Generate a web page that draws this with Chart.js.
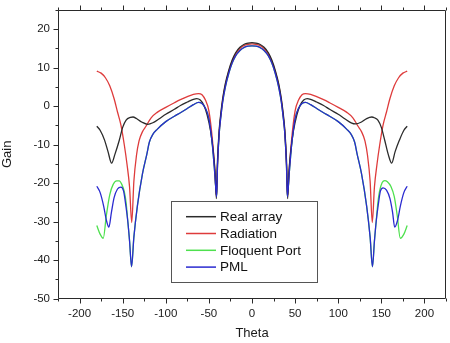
<!DOCTYPE html>
<html><head><meta charset="utf-8">
<script src="https://cdn.jsdelivr.net/npm/chart.js@4.4.1/dist/chart.umd.min.js"></script>
<style>html,body{margin:0;padding:0;background:#fff;}#wrap{width:450px;height:343px;position:relative;}</style>
</head><body><div id="wrap"><canvas id="c"></canvas></div>
<script>
// ---- tick values ----
const xTicks = [-200, -150, -100, -50, 0, 50, 100, 150, 200];
const xMinorTicks = [-225, -175, -125, -75, -25, 25, 75, 125, 175, 225];
const yTicks = [-50, -40, -30, -20, -10, 0, 10, 20];
const yMinorTicks = [-45, -35, -25, -15, -5, 5, 15, 25];
const seriesNames = ['Real array', 'Radiation', 'Floquent Port', 'PML'];

// ---- Real array ----
const realArrayTheta = [-180,-176,-171,-167,-162.8,-159,-154,-150,-146,-141,-138,-134,-128,-121,-115,-108,-100,-90,-83,-75,-68,-64,-60,-56,-52,-48,-45,-43,-41.3,-40,-38,-36,-34,-31,-27,-23,-19,-14,-9,-4.5,0,
  4.5,9,14,19,23,27,31,34,36,38,40,41.3,43,45,48,52,56,60,64,68,75,83,90,100,108,115,120,127,133,139,142,146,150,154,158,162,166,171,176,180];
const realArrayGain = [-5.2,-6.3,-8.8,-11.8,-14.8,-12.5,-8.9,-5.5,-3.6,-2.9,-2.8,-3.2,-4.1,-4.7,-4.3,-3.3,-2.1,-0.8,0.2,1.1,1.8,2.0,1.6,0.3,-2.3,-6.5,-11.5,-16.5,-24,-14,-6,-1.5,2,5.8,9.3,12,13.9,15.3,16.1,16.4,16.5,
  16.4,16.1,15.3,13.9,12,9.3,5.8,2,-1.5,-6,-14,-24,-16.5,-11.5,-6.5,-2.3,0.3,1.6,2.0,1.8,1.1,0.2,-0.8,-2.1,-3.3,-4.3,-4.6,-4.1,-3.2,-2.8,-3.0,-3.6,-5.5,-8.9,-12.5,-14.8,-11.8,-8.8,-6.3,-5.2];

// ---- Radiation ----
const radiationTheta = [-180,-175,-170,-165,-160,-156,-152,-148,-145,-142,-139.5,-137,-134,-131,-127,-123,-117,-110,-100,-90,-83,-75,-68,-62,-58,-54,-50,-46,-43,-41.2,-40,-38,-36,-34,-31,-27,-23,-19,-14,-9,-4.5,0,
  4.5,9,14,19,23,27,31,34,36,38,40,41.2,43,46,50,54,58,62,68,75,83,90,100,110,117,123,127,131,134,137,139.5,142,145,148,152,156,160,165,170,175,180];
const radiationGain = [9.1,8.6,7.4,5.3,2.0,-1.5,-4.9,-10.2,-15,-21,-30.2,-19.5,-12.8,-9,-6.6,-5.2,-3,-1.6,-0.3,0.9,1.7,2.5,3.1,3.3,3.0,1.6,-1.2,-8.5,-17,-23.5,-15,-6.5,-2,1.6,5.4,9,11.7,13.6,15,15.8,16.1,16.2,
  16.1,15.8,15,13.6,11.7,9,5.4,1.6,-2,-6.5,-15,-23.5,-17,-8.5,-1.2,1.6,3.0,3.3,3.1,2.5,1.7,0.9,-0.3,-1.6,-3,-5.2,-6.6,-9,-12.8,-19.5,-30.2,-21,-15,-10.2,-4.9,-1.5,2.0,5.3,7.4,8.6,9.1];

// ---- Floquent Port ----
const floquentTheta = [-180,-176,-172.5,-169,-165,-161,-157,-154,-151,-148,-146,-144,-142,-139.7,-137,-133,-127,-122,-119,-115,-110,-100,-90,-83,-75,-68,-62,-58,-54,-50,-46,-43,-41,-40,-38,-36,-34,-31,-27,-23,-19,-14,-9,-4.5,0,
  4.5,9,14,19,23,27,31,34,36,38,40,41,43,46,50,54,58,62,68,75,83,90,100,110,115,119,122,127,133,137,139.7,142,144,146,148,151,154,157,161,165,168.5,172,176,180];
const floquentGain = [-31,-33.3,-34.3,-28.5,-23,-20.3,-19.4,-19.4,-20.3,-22.3,-25,-30,-35,-41.7,-34,-26,-17.5,-12.5,-9.3,-7.3,-6,-4,-2.6,-1.7,-0.6,0.4,1.0,0.7,-0.5,-3.2,-10,-18,-23.5,-15.5,-7,-2.5,1.1,4.9,8.5,11.2,13.1,14.5,15.3,15.6,15.7,
  15.6,15.3,14.5,13.1,11.2,8.5,4.9,1.1,-2.5,-7,-15.5,-23.5,-18,-10,-3.2,-0.5,0.7,1.0,0.4,-0.6,-1.7,-2.6,-4,-6,-7.3,-9.3,-12.5,-17.5,-26,-34,-41.7,-35,-30,-25,-22,-19.8,-19.3,-19.6,-20.8,-23.5,-28.5,-34.3,-33.3,-31];

// ---- PML ----
const pmlTheta = [-180,-176,-172,-169,-166,-163,-160,-156,-152,-149,-146.5,-144,-142,-139.7,-137,-133,-127,-122,-119,-115,-110,-100,-90,-83,-75,-68,-62,-58,-54,-50,-46,-43,-41,-40,-38,-36,-34,-31,-27,-23,-19,-14,-9,-4.5,0,
  4.5,9,14,19,23,27,31,34,36,38,40,41,43,46,50,54,58,62,68,75,83,90,100,110,115,119,122,127,133,137,139.7,142,144,146.5,149,152,156,160,163,165.5,169,172,176,180];
const pmlGain = [-20.8,-22.5,-26,-29.5,-31.4,-27.5,-23.8,-21.5,-21,-22,-25.5,-30,-35,-41.7,-34,-26,-17.5,-12.5,-9.3,-7.3,-6,-4,-2.6,-1.7,-0.6,0.4,1.0,0.7,-0.5,-3.2,-10,-18,-23.5,-15.5,-7,-2.5,1.1,4.9,8.5,11.2,13.1,14.5,15.3,15.6,15.7,
  15.6,15.3,14.5,13.1,11.2,8.5,4.9,1.1,-2.5,-7,-15.5,-23.5,-18,-10,-3.2,-0.5,0.7,1.0,0.4,-0.6,-1.7,-2.6,-4,-6,-7.3,-9.3,-12.5,-17.5,-26,-34,-41.7,-35,-30,-25.5,-22,-21.2,-21.8,-24,-27.5,-31.4,-29.5,-26,-22.5,-20.8];

const FONT = '"Liberation Sans", Arial, sans-serif';
const pts = (t, g) => t.map((v, i) => ({x: v, y: g[i]}));

const frameTicks = {
  id: 'frameTicks',
  afterDraw(chart) {
    const {ctx, chartArea: a, scales: {x, y}} = chart;
    ctx.save();
    ctx.strokeStyle = '#2a2a2a';
    ctx.lineWidth = 1;
    const L = Math.round(a.left) + 0.5, R = Math.round(a.right) - 0.5;
    const T = Math.round(a.top) + 0.5, B = Math.round(a.bottom) - 0.5;
    ctx.beginPath();
    ctx.rect(L, T, R - L, B - T);
    const xt = (v, len) => {
      const p = Math.round(x.getPixelForValue(v)) + 0.5;
      ctx.moveTo(p, B); ctx.lineTo(p, B + len);
      ctx.moveTo(p, T); ctx.lineTo(p, T - len);
    };
    const yt = (v, len) => {
      const p = Math.round(y.getPixelForValue(v)) + 0.5;
      ctx.moveTo(L, p); ctx.lineTo(L - len, p);
    };
    xTicks.forEach(v => xt(v, 5));
    xMinorTicks.forEach(v => xt(v, 3));
    yTicks.forEach(v => yt(v, 5));
    yMinorTicks.forEach(v => yt(v, 3));
    ctx.stroke();
    ctx.restore();
  }
};

const legendBox = {
  id: 'legendBox',
  afterDatasetsDraw(chart) {
    const {ctx, chartArea: a} = chart;
    const x0 = Math.round(a.left) + 113, y0 = Math.round(a.top) + 191, w = 146, h = 81;
    ctx.save();
    ctx.fillStyle = '#fff';
    ctx.fillRect(x0, y0, w, h);
    ctx.strokeStyle = '#555';
    ctx.lineWidth = 1;
    ctx.strokeRect(x0 + 0.5, y0 + 0.5, w, h);
    ctx.font = '13.5px ' + FONT;
    ctx.textBaseline = 'middle';
    chart.data.datasets.forEach((ds, i) => {
      const yy = y0 + 15.7 + i * 16.8;
      ctx.strokeStyle = ds.borderColor;
      ctx.lineWidth = 1.5;
      ctx.beginPath(); ctx.moveTo(x0 + 15, yy); ctx.lineTo(x0 + 45, yy); ctx.stroke();
      ctx.fillStyle = '#111';
      ctx.fillText(ds.label, x0 + 49, yy + 0.5);
    });
    ctx.restore();
  }
};

const mk = (label, t, g, color, order) => ({
  label, data: pts(t, g), borderColor: color, backgroundColor: color,
  borderWidth: 1.3, pointRadius: 0, showLine: true, fill: false,
  cubicInterpolationMode: 'monotone', order
});

new Chart(document.getElementById('c'), {
  type: 'scatter',
  data: {
    datasets: [
      mk(seriesNames[0], realArrayTheta, realArrayGain, '#2b2b2b', 2),
      mk(seriesNames[1], radiationTheta, radiationGain, '#de3b3b', 3),
      mk(seriesNames[2], floquentTheta, floquentGain, '#4ee04e', 4),
      mk(seriesNames[3], pmlTheta, pmlGain, '#2a2ad0', 1)
    ]
  },
  options: {
    responsive: true, maintainAspectRatio: false, animation: false, devicePixelRatio: 1,
    layout: {padding: {top: 10, right: 4, left: 0, bottom: 0}},
    plugins: {legend: {display: false}, tooltip: {enabled: false}},
    scales: {
      x: {
        type: 'linear', min: -225, max: 225,
        afterBuildTicks: s => { s.ticks = xTicks.map(v => ({value: v})); },
        afterFit: s => { s.height = 44.3; s.paddingLeft = 0; s.paddingRight = 0; },
        grid: {display: false, drawTicks: false}, border: {display: false},
        ticks: {padding: 8, color: '#1a1a1a', font: {family: FONT, size: 11.5}, maxRotation: 0, autoSkip: false},
        title: {display: true, text: 'Theta', color: '#1a1a1a', font: {family: FONT, size: 13}, padding: {top: 0, bottom: 2.2}}
      },
      y: {
        type: 'linear', min: -50, max: 25,
        afterBuildTicks: s => { s.ticks = yTicks.map(v => ({value: v})); },
        afterFit: s => { s.width = 58; s.paddingTop = 0; s.paddingBottom = 0; },
        grid: {display: false, drawTicks: false}, border: {display: false},
        ticks: {padding: 8, color: '#1a1a1a', font: {family: FONT, size: 11.5}},
        title: {display: true, text: 'Gain', color: '#1a1a1a', font: {family: FONT, size: 13}, padding: {top: 0, bottom: 0}}
      }
    }
  },
  plugins: [frameTicks, legendBox]
});
</script></body></html>
